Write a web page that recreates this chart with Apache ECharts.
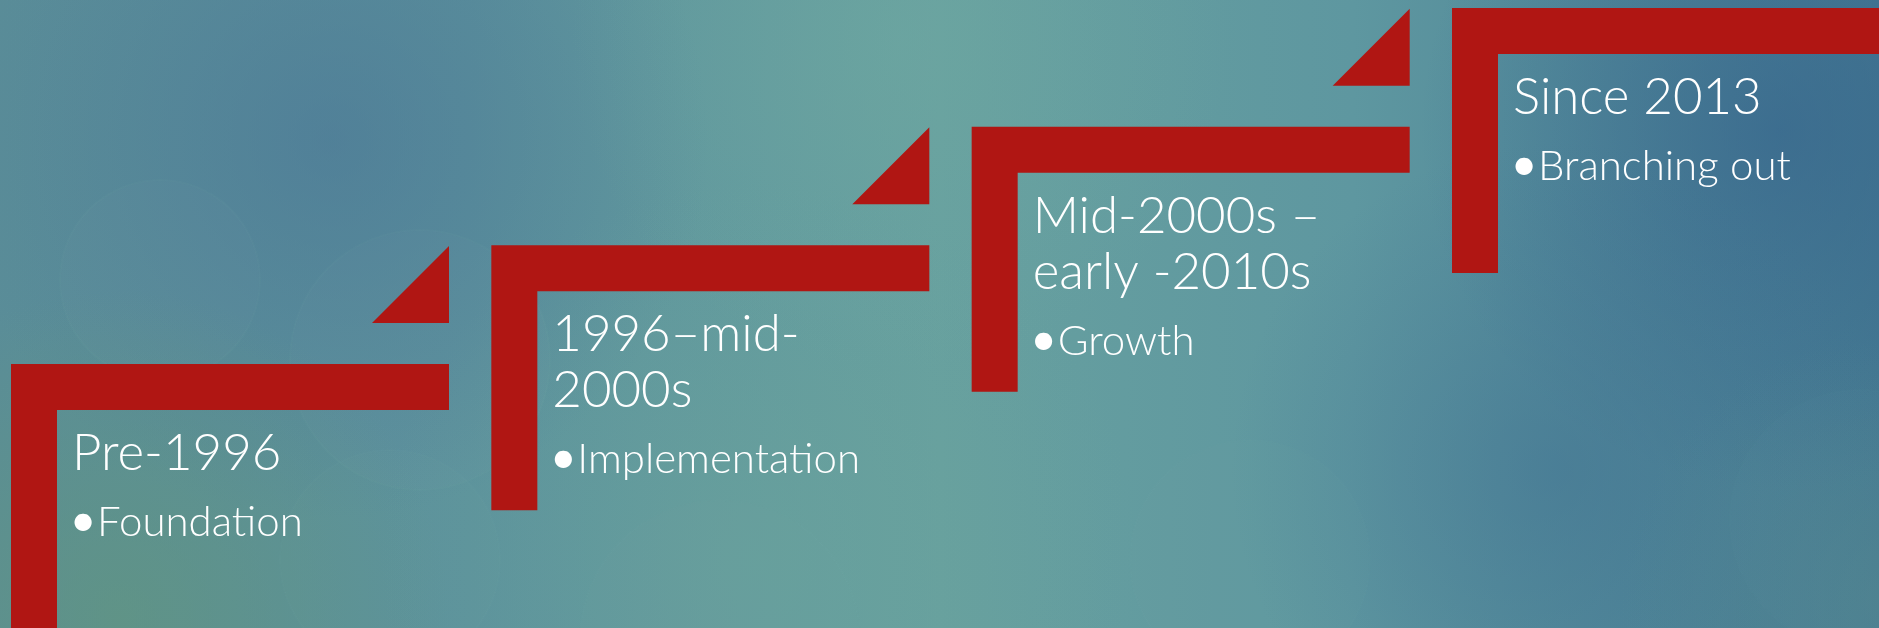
<!DOCTYPE html>
<html>
<head>
<meta charset="utf-8">
<script src="https://cdn.jsdelivr.net/npm/echarts@6/dist/echarts.min.js"></script>
<style>
  html, body { margin: 0; padding: 0; background: #5e959c; }
  #chart { width: 1879px; height: 628px; }
</style>
</head>
<body>
<div id="chart"></div>
<script>
// Stage order (left to right) and the step level each stage sits on
const stageIndex = [0, 1, 2, 3];
const stageLevel = [0, 1, 2, 3];
// Period headings (line breaks as shown) and the bullet under each
const periods = ['Pre-1996', '1996\u2013mid-\n2000s', 'Mid-2000s \u2013\nearly -2010s', 'Since 2013'];
const phases = ['Foundation', 'Implementation', 'Growth', 'Branching out'];

const RED = '#B01613';
const FONT = 'Lato';
const TITLE_SIZE = 51;
const BODY_SIZE = 42;

const chart = echarts.init(document.getElementById('chart'), null, { renderer: 'canvas' });

// Baseline helper: zrender draws single lines centred on y with 'middle'
function lineAt(x, baseline, text, size, weight, align) {
  return {
    type: 'text',
    style: {
      x: x, y: baseline - size * 0.32,
      text: text,
      fill: '#ffffff',
      font: (weight || 300) + ' ' + size + 'px ' + FONT,
      verticalAlign: 'middle',
      align: align || 'left'
    },
    silent: true
  };
}

function renderStep(params, api) {
  const i = api.value(0);
  const p = api.coord([i, api.value(1)]);
  const x = p[0], y = p[1];
  const T = 46;    // bar thickness
  const W = 438;   // top bar length
  const H = 265;   // upright length
  const children = [];
  // L-shaped bracket
  children.push({
    type: 'polygon',
    shape: { points: [[x, y], [x + W, y], [x + W, y + T], [x + T, y + T], [x + T, y + H], [x, y + H]] },
    style: { fill: RED }
  });
  // small right-angle triangle above the bracket's end
  children.push({
    type: 'polygon',
    shape: { points: [[x + W, y - 118], [x + W, y - 41], [x + W - 77, y - 41]] },
    style: { fill: RED }
  });
  // heading lines
  const lines = periods[params.dataIndex].split('\n');
  const base = y + 106;
  lines.forEach(function (ln, k) {
    children.push(lineAt(x + 61, base + k * 56, ln, TITLE_SIZE));
  });
  const bodyBase = base + (lines.length - 1) * 56 + 66;
  children.push(lineAt(x + 72, bodyBase, '\u2022', 46, 400, 'center'));
  children.push(lineAt(x + 86, bodyBase, phases[params.dataIndex], BODY_SIZE));
  return { type: 'group', children: children };
}

function glow(cx, cy, r, color, alpha) {
  return {
    type: 'circle', silent: true, z: -10,
    shape: { cx: cx, cy: cy, r: r },
    style: {
      fill: {
        type: 'radial', x: 0.5, y: 0.5, r: 0.5,
        colorStops: [
          { offset: 0, color: 'rgba(' + color + ',' + alpha + ')' },
          { offset: 1, color: 'rgba(' + color + ',0)' }
        ]
      }
    }
  };
}

// faint out-of-focus light discs
function bokeh(cx, cy, r, alpha) {
  return {
    type: 'circle', silent: true, z: -9,
    shape: { cx: cx, cy: cy, r: r },
    style: { fill: 'rgba(150,200,185,' + alpha + ')', stroke: 'rgba(170,215,200,' + alpha + ')', lineWidth: 2 }
  };
}

const option = {
  animation: false,
  graphic: [
    {
      type: 'rect', silent: true, z: -20,
      shape: { x: 0, y: 0, width: 1879, height: 628 },
      style: {
        fill: {
          type: 'linear', x: 0, y: 0, x2: 1, y2: 0,
          colorStops: [
            { offset: 0, color: '#5a8d98' },
            { offset: 0.25, color: '#5c929c' },
            { offset: 0.5, color: '#67a09f' },
            { offset: 0.72, color: '#5e97a0' },
            { offset: 1, color: '#457a92' }
          ]
        }
      }
    },
    glow(330, 140, 380, '72,115,150', 0.55),
    glow(120, 620, 330, '98,150,125', 0.65),
    glow(900, 40, 330, '112,170,162', 0.45),
    glow(760, 560, 380, '108,165,155', 0.45),
    glow(1780, 130, 360, '52,98,140', 0.6),
    glow(1560, 470, 330, '62,110,145', 0.45),
    glow(1880, 600, 260, '90,140,140', 0.4),
    bokeh(160, 280, 100, 0.03),
    bokeh(420, 360, 130, 0.03),
    bokeh(390, 560, 110, 0.025),
    bokeh(1250, 560, 120, 0.02),
    bokeh(1860, 520, 130, 0.02),
    bokeh(720, 640, 140, 0.02)
  ],
  grid: { left: 11, top: 8, width: 1441, height: 356 },
  xAxis: { type: 'value', min: 0, max: 3, show: false },
  yAxis: { type: 'value', min: 0, max: 3, show: false },
  series: [{
    type: 'custom',
    renderItem: renderStep,
    clip: false,
    silent: true,
    data: stageIndex.map(function (v, k) { return [v, stageLevel[k]]; })
  }]
};

chart.setOption(option);
</script>
</body>
</html>
